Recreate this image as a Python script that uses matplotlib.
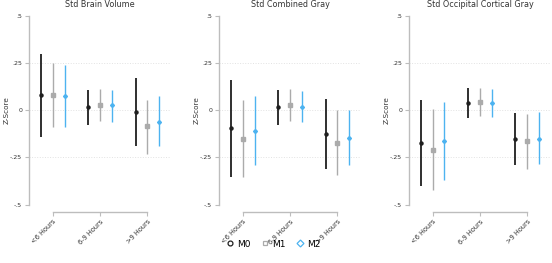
import numpy as np
import matplotlib.pyplot as plt

categories = ['<6 Hours', '6-9 Hours', '>9 Hours']
models = ['M0', 'M1', 'M2']
titles = ['Std Brain Volume', 'Std Combined Gray', 'Std Occipital Cortical Gray']

# estimates / lower / upper, rows = M0, M1, M2
brain_est = [[0.08, 0.015, -0.01], [0.08, 0.03, -0.085], [0.075, 0.027, -0.065]]
brain_lo = [[-0.14, -0.08, -0.19], [-0.09, -0.055, -0.23], [-0.09, -0.06, -0.19]]
brain_hi = [[0.30, 0.105, 0.17], [0.25, 0.11, 0.055], [0.24, 0.105, 0.075]]

gray_est = [[-0.095, 0.015, -0.125], [-0.15, 0.028, -0.175], [-0.11, 0.018, -0.145]]
gray_lo = [[-0.355, -0.08, -0.31], [-0.355, -0.055, -0.345], [-0.29, -0.062, -0.29]]
gray_hi = [[0.16, 0.105, 0.06], [0.055, 0.11, 0.0], [0.075, 0.10, 0.0]]

occ_est = [[-0.175, 0.037, -0.155], [-0.21, 0.043, -0.165], [-0.165, 0.037, -0.15]]
occ_lo = [[-0.40, -0.042, -0.29], [-0.425, -0.032, -0.31], [-0.37, -0.037, -0.285]]
occ_hi = [[0.055, 0.117, -0.015], [0.005, 0.117, -0.02], [0.045, 0.11, -0.01]]

panels = [(brain_est, brain_lo, brain_hi),
          (gray_est, gray_lo, gray_hi),
          (occ_est, occ_lo, occ_hi)]

colors = ['#1f1f1f', '#ababab', '#4db3f0']
markers = ['o', 's', 'D']
msizes = [2.2, 2.4, 2.0]
lws = [1.3, 1.0, 1.0]
offsets = [-0.25, 0, 0.25]

fig = plt.figure(figsize=(5.52, 2.63), dpi=100)
lefts = [0.053, 0.397, 0.741]
x = np.arange(1, 4)

for p, (est, lo, hi) in enumerate(panels):
    ax = fig.add_axes([lefts[p], 0.222, 0.257, 0.718])
    for s in ['top', 'right']:
        ax.spines[s].set_visible(False)
    ax.spines['bottom'].set_position(('outward', 5))
    ax.spines['bottom'].set_bounds(1, 3)
    ax.spines['left'].set_color('#bdbdbd')
    ax.spines['bottom'].set_color('#bdbdbd')
    ax.spines['left'].set_linewidth(1.0)
    ax.spines['bottom'].set_linewidth(1.0)
    for k in [0.25, 0, -0.25] + ([-0.5] if p > 0 else []):
        ax.axhline(k, color='#e2e2e2', lw=0.7, ls=':', zorder=0)
    for m in range(3):
        e = np.array(est[m]); l = np.array(lo[m]); h = np.array(hi[m])
        ax.vlines(x + offsets[m], l, h, color=colors[m], lw=lws[m], zorder=2)
        ax.plot(x + offsets[m], e, ls='none', marker=markers[m], ms=msizes[m],
                color=colors[m], zorder=3)
    ax.set_xlim(0.5, 3.5)
    ax.set_ylim(-0.5, 0.5)
    ax.set_yticks([0.5, 0.25, 0, -0.25, -0.5])
    ax.set_yticklabels(['.5', '.25', '0', '-.25', '-.5'], fontsize=4.5, color='#333333')
    ax.set_xticks(x)
    ax.set_xticklabels(categories, rotation=45, ha='right', rotation_mode='anchor',
                       fontsize=4.8, color='#333333')
    ax.tick_params(axis='both', colors='#bdbdbd', length=3, width=0.8, pad=2,
                   labelcolor='#333333')
    ax.set_ylabel('Z-Score', fontsize=5.2, color='#333333')
    ax.yaxis.set_label_coords(-0.135, 0.5)
    ax.set_title(titles[p], fontsize=5.8, color='#333333', pad=6)

handles = [plt.Line2D([], [], ls='none', marker=markers[m], ms=3.5,
                      mfc='white', mec=colors[m], mew=0.9) for m in range(3)]
fig.legend(handles, models, loc='center', bbox_to_anchor=(0.495, 0.072), ncol=3,
           frameon=False, fontsize=6.5, handletextpad=0.4, columnspacing=1.2,
           handlelength=0.8)

fig.savefig('out.png', dpi=100)
